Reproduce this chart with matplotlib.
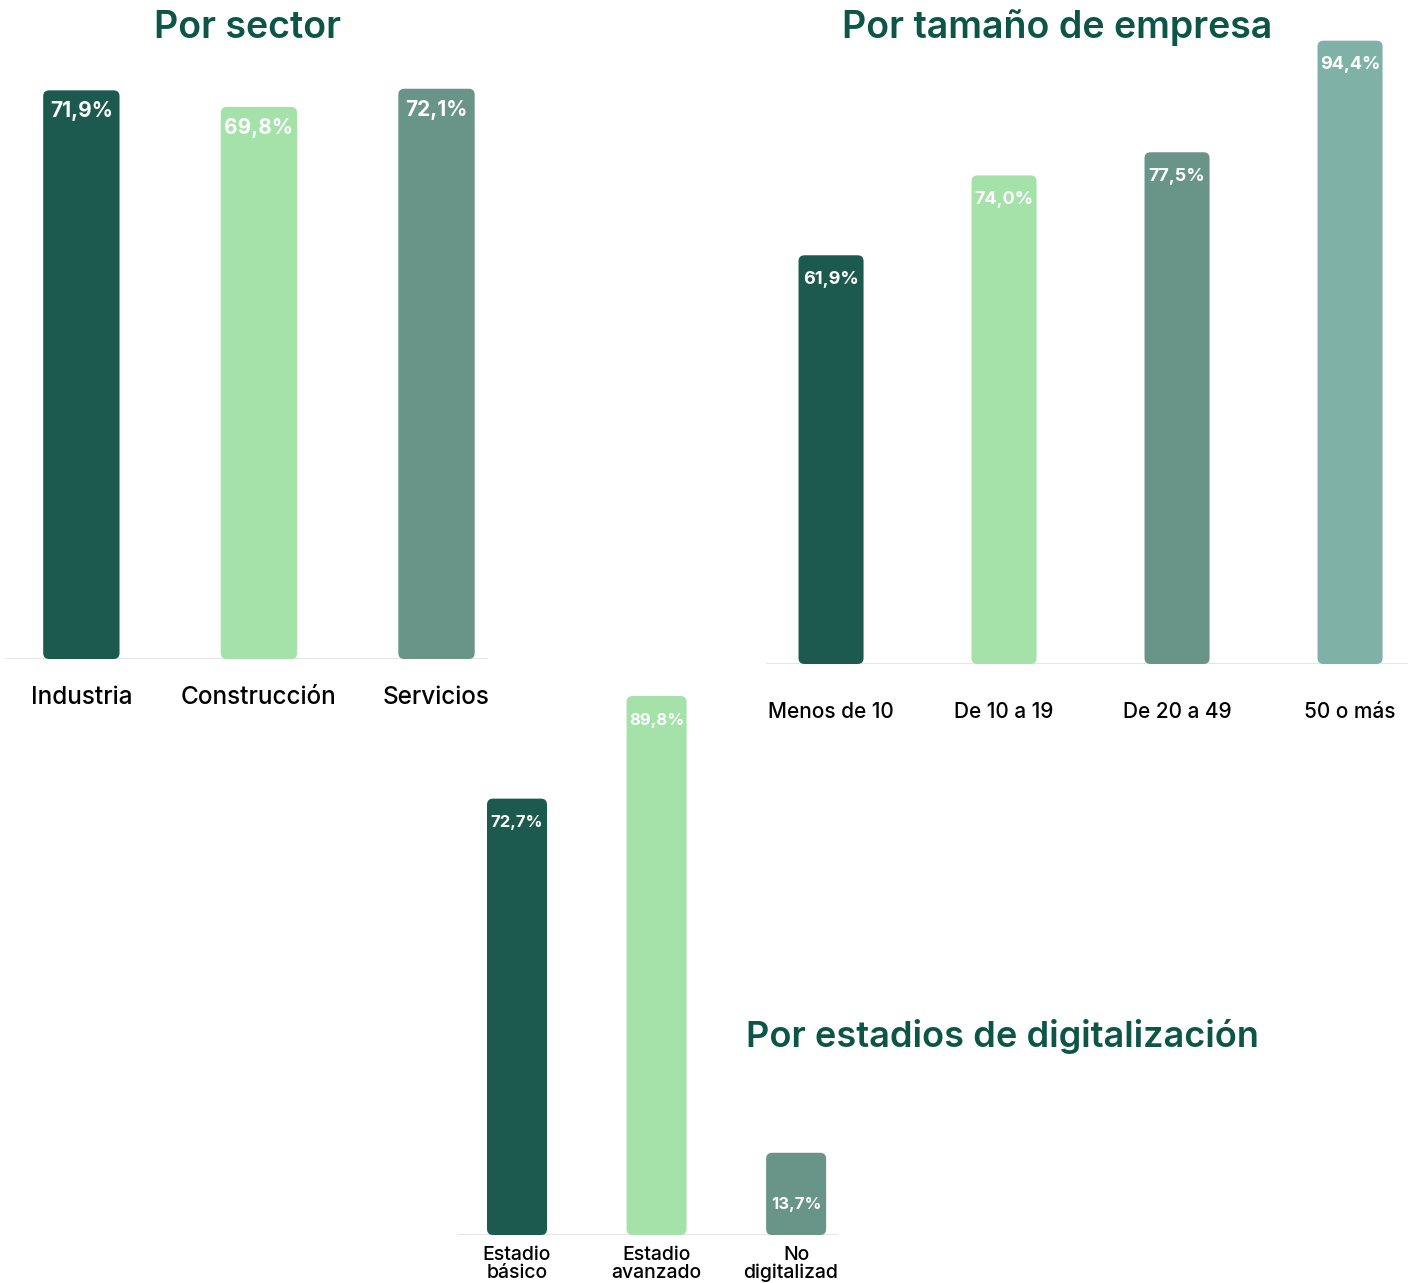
import matplotlib.pyplot as plt
from matplotlib.patches import FancyBboxPatch
from matplotlib.transforms import Bbox, TransformedBbox

plt.rcParams['font.family'] = ['Inter', 'DejaVu Sans']

# Datos
sectores = ["Industria", "Construcción", "Servicios"]
valores_sector = [71.9, 69.8, 72.1]

tamanos = ["Menos de 10", "De 10 a 19", "De 20 a 49", "50 o más"]
valores_tamano = [61.9, 74.0, 77.5, 94.4]

estadios = ["Estadio\nbásico", "Estadio\navanzado", "No\ndigitalizada"]
valores_estadio = [72.7, 89.8, 13.7]

colores = ["#1c5a4f", "#a4e2aa", "#699488", "#7fb1a7"]
verde_titulo = "#0d5546"

W, H = 1414, 1283
fig = plt.figure(figsize=(W / 100, H / 100), dpi=100)


def crear_ejes(izq, der, arriba, abajo):
    return fig.add_axes([izq / W, (H - abajo) / H, (der - izq) / W, (abajo - arriba) / H])


def barras(ax, nombres, valores, ancho, xlim, ylim, fs_val, fs_cat, off_val, off_cat, radio=6):
    ax.set_xlim(*xlim)
    ax.set_ylim(*ylim)
    ancho_px = ax.get_position().width * W
    alto_px = ax.get_position().height * H
    ux = (xlim[1] - xlim[0]) / ancho_px
    uy = (ylim[1] - ylim[0]) / alto_px
    for i, v in enumerate(valores):
        caja = FancyBboxPatch((i - ancho / 2, 0), ancho, v,
                              boxstyle=f"round,pad=0,rounding_size={radio * ux}",
                              mutation_aspect=uy / ux, fc=colores[i], ec="none")
        ax.add_patch(caja)
        txt = f"{v:.1f}%".replace(".", ",")
        if v < 20:
            ax.annotate(txt, (i, 0), xytext=(0, 31 * 0.72), textcoords="offset points",
                        ha="center", va="center", color="white", fontsize=fs_val, fontweight="bold")
        else:
            ax.annotate(txt, (i, v), xytext=(0, -off_val * 0.72), textcoords="offset points",
                        ha="center", va="center", color="white", fontsize=fs_val, fontweight="bold")
    textos = []
    for i, n in enumerate(nombres):
        t = ax.annotate(n, (i, 0), xytext=(0, -off_cat * 0.72), textcoords="offset points",
                        ha="center", va="center", color="black", fontsize=fs_cat,
                        fontweight="medium", linespacing=1.0, annotation_clip=False)
        textos.append(t)
    ax.axhline(0, color="#e6e6e6", lw=1.5, zorder=0)
    ax.axis("off")
    return textos


# Por sector
ax1 = crear_ejes(5, 488, 50, 659)
barras(ax1, sectores, valores_sector, 0.43, (-0.43, 2.29), (0, 77),
       15, 17.5, 21, 39)
fig.text(247 / W, 1 - 28 / H, "Por sector", ha="center", va="center",
         fontsize=27, fontweight="semibold", color=verde_titulo)

# Por tamaño de empresa
ax2 = crear_ejes(766, 1408, 40, 664)
barras(ax2, tamanos, valores_tamano, 0.376, (-0.376, 3.335), (0, 94.5),
       13, 15, 24, 48)
fig.text(1057 / W, 1 - 28 / H, "Por tamaño de empresa", ha="center", va="center",
         fontsize=27, fontweight="semibold", color=verde_titulo)

# Por estadios de digitalización
ax3 = crear_ejes(457, 838, 690, 1235)
tx = barras(ax3, estadios, valores_estadio, 0.43, (-0.43, 2.30), (0, 90.8),
            12, 14, 24, 29)
recorte = TransformedBbox(Bbox([[0, 0], [838 / W, 1]]), fig.transFigure)
for t in tx:
    t.set_clip_box(recorte)
    t.set_clip_on(True)
fig.text(746 / W, 1 - 1036 / H, "Por estadios de digitalización", ha="left", va="center",
         fontsize=26, fontweight="semibold", color=verde_titulo)

fig.savefig("out.png", dpi=100)
